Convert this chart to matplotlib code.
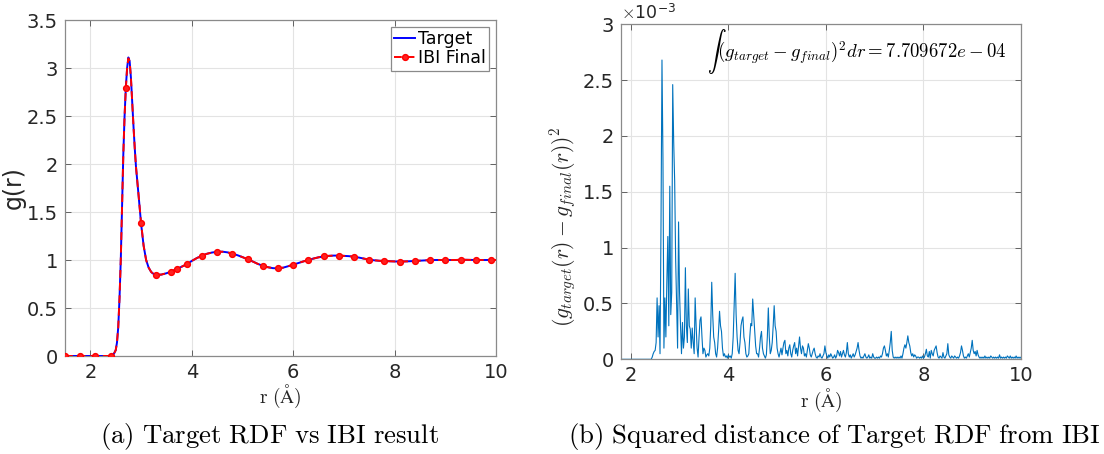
import numpy as np
import matplotlib
matplotlib.use("Agg")
import matplotlib.pyplot as plt

plt.rcParams['mathtext.fontset'] = 'cm'
plt.rcParams['font.family'] = ['DejaVu Sans']

# ---------------- data: left panel (RDF) ----------------
r_g = [1.5, 1.8, 2.1, 2.4, 2.45, 2.5, 2.525, 2.55, 2.575, 2.6, 2.625, 2.65, 2.675,
       2.7, 2.725, 2.75, 2.775, 2.8, 2.825, 2.85, 2.875, 2.9, 2.95, 3.0, 3.05,
       3.1, 3.15, 3.2, 3.25, 3.3, 3.4, 3.5, 3.6, 3.7, 3.8, 3.9, 4.0, 4.1, 4.2,
       4.3, 4.4, 4.5, 4.6, 4.7, 4.8, 4.9, 5.0, 5.1, 5.2, 5.3, 5.4, 5.5, 5.6,
       5.7, 5.8, 5.9, 6.0, 6.1, 6.2, 6.3, 6.4, 6.5, 6.6, 6.7, 6.8, 6.9, 7.0,
       7.1, 7.2, 7.3, 7.4, 7.5, 7.6, 7.7, 7.8, 7.9, 8.0, 8.1, 8.2, 8.3, 8.4,
       8.5, 8.6, 8.7, 8.8, 8.9, 9.0, 9.1, 9.2, 9.3, 9.4, 9.5, 9.6, 9.7, 9.8,
       9.9, 10.0]
g_target = [0, 0, 0, 0, 0.01, 0.06, 0.14, 0.3, 0.6, 1.0, 1.55, 2.1, 2.5,
            2.8, 3.0, 3.11, 3.07, 2.9, 2.65, 2.4, 2.17, 1.97, 1.68, 1.38, 1.15,
            1.0, 0.92, 0.875, 0.853, 0.845, 0.848, 0.862, 0.88, 0.905, 0.93, 0.955, 0.99, 1.02, 1.045,
            1.065, 1.078, 1.085, 1.087, 1.08, 1.067, 1.05, 1.03, 1.008, 0.985, 0.96, 0.94, 0.925, 0.915,
            0.913, 0.92, 0.935, 0.952, 0.968, 0.985, 1.0, 1.015, 1.028, 1.037, 1.043, 1.046, 1.046, 1.043,
            1.04, 1.034, 1.025, 1.014, 1.004, 0.997, 0.992, 0.99, 0.987, 0.985, 0.984, 0.985, 0.987, 0.99,
            0.993, 0.996, 0.999, 1.0, 1.0, 1.0, 1.0, 1.0, 1.002, 1.002, 1.001, 1.0, 1.0, 1.0,
            1.0, 1.0]
g_ibi = [0, 0, 0, 0, 0.01, 0.06, 0.14, 0.3, 0.6, 1.0, 1.55, 2.1, 2.5,
         2.79, 3.0, 3.1, 3.07, 2.9, 2.65, 2.4, 2.17, 1.97, 1.68, 1.39, 1.15,
         1.0, 0.92, 0.875, 0.853, 0.845, 0.848, 0.862, 0.88, 0.905, 0.93, 0.955, 0.99, 1.02, 1.045,
         1.065, 1.078, 1.084, 1.086, 1.08, 1.067, 1.05, 1.03, 1.008, 0.985, 0.96, 0.94, 0.925, 0.915,
         0.913, 0.92, 0.935, 0.952, 0.968, 0.985, 1.0, 1.015, 1.028, 1.037, 1.043, 1.046, 1.046, 1.043,
         1.04, 1.034, 1.025, 1.014, 1.004, 0.997, 0.992, 0.99, 0.987, 0.985, 0.984, 0.985, 0.987, 0.99,
         0.993, 0.996, 0.999, 1.0, 1.0, 1.0, 1.0, 1.0, 1.002, 1.002, 1.001, 1.0, 1.0, 1.0,
         1.0, 1.0]
marker_r = [1.5, 1.8, 2.1, 2.4, 2.7, 3.0, 3.3, 3.6, 3.7, 3.9, 4.2, 4.5, 4.8, 5.1,
            5.4, 5.7, 6.0, 6.3, 6.6, 6.9, 7.2, 7.5, 7.8, 8.1, 8.4, 8.7, 9.0,
            9.3, 9.6, 9.9]

# ---------------- data: right panel (squared distance, x1e-3) ----------------
r_sq_start = 2.40
r_sq_step = 0.02
sq_dist = [
    0, 0, 0.02, 0.05, 0.07, 0.08, 0.15, 0.55, 0.2, 0.48,
    0.05, 1.2, 2.68, 1.8, 0.1, 0.55, 0.2, 0.7, 1.1, 0.3,
    1.55, 0.4, 0.6, 2.46, 1.95, 1.6, 0.9, 0.5, 0.1, 1.23,
    0.6, 0.3, 0.05, 0.33, 0.1, 0.2, 0.82, 0.3, 0.15, 0.63,
    0.3, 0.27, 0.1, 0.28, 0.15, 0.05, 0.55, 0.3, 0.1, 0.02,
    0.2, 0.35, 0.38, 0.2, 0.05, 0.1, 0.08, 0.02, 0.04, 0.05,
    0.03, 0.1, 0.3, 0.69, 0.4, 0.2, 0.15, 0.05, 0.02, 0.1,
    0.25, 0.43, 0.3, 0.25, 0.1, 0.03, 0.05, 0.02, 0.03, 0.01,
    0.04, 0.02, 0.03, 0.01, 0.05, 0.2, 0.5, 0.77, 0.4, 0.2,
    0.08, 0.05, 0.15, 0.3, 0.35, 0.38, 0.2, 0.15, 0.05, 0.02,
    0.03, 0.05, 0.2, 0.32, 0.3, 0.54, 0.4, 0.25, 0.12, 0.05,
    0.05, 0.02, 0.1, 0.2, 0.25, 0.1, 0.05, 0.03, 0.01, 0.04,
    0.2, 0.46, 0.2, 0.05, 0.08, 0.15, 0.3, 0.48, 0.3, 0.25,
    0.1, 0.05, 0.02, 0.06, 0.1, 0.04, 0.1, 0.15, 0.17, 0.05,
    0.08, 0.03, 0.1, 0.13, 0.05, 0.02, 0.08, 0.12, 0.15, 0.05,
    0.1, 0.03, 0.12, 0.2, 0.1, 0.05, 0.12, 0.1, 0.03, 0.05,
    0.02, 0.08, 0.14, 0.1, 0.04, 0.02, 0.05, 0.08, 0.1, 0.05,
    0.02, 0.01, 0.03, 0.02, 0.05, 0.02, 0.01, 0.03, 0.05, 0.12,
    0.06, 0.03, 0.01, 0.04, 0.02, 0.05, 0.03, 0.01, 0.02, 0.04,
    0.01, 0.03, 0.08, 0.06, 0.03, 0.07, 0.02, 0.05, 0.08, 0.04,
    0.02, 0.06, 0.15, 0.05, 0.02, 0.04, 0.01, 0.03, 0.05, 0.02,
    0.04, 0.07, 0.1, 0.15, 0.08, 0.03, 0.01, 0.02, 0.01, 0.03,
    0.05, 0.02, 0.01, 0.02, 0.04, 0.01, 0.02, 0.01, 0.05, 0.02,
    0.01, 0.01, 0.02, 0.01, 0.02, 0.01, 0.03, 0.02, 0.05, 0.1,
    0.12, 0.08, 0.03, 0.05, 0.02, 0.08, 0.15, 0.25, 0.08, 0.02,
    0.01, 0.02, 0.01, 0.02, 0.01, 0.02, 0.01, 0.03, 0.01, 0.05,
    0.1, 0.13, 0.1, 0.15, 0.21, 0.15, 0.12, 0.06, 0.03, 0.05,
    0.02, 0.04, 0.03, 0.01, 0.02, 0.02, 0.01, 0.02, 0.01, 0.03,
    0.01, 0.02, 0.05, 0.09, 0.03, 0.02, 0.07, 0.01, 0.08, 0.05,
    0.03, 0.08, 0.1, 0.12, 0.06, 0.02, 0.01, 0.03, 0.02, 0.01,
    0.06, 0.02, 0.01, 0.03, 0.05, 0.14, 0.04, 0.02, 0.01, 0.03,
    0.02, 0.01, 0.03, 0.02, 0.01, 0.02, 0.01, 0.03, 0.06, 0.12,
    0.08, 0.03, 0.01, 0.02, 0.01, 0.03, 0.05, 0.02, 0.06, 0.1,
    0.17, 0.08, 0.05, 0.07, 0.03, 0.08, 0.04, 0.02, 0.01, 0.02,
    0.01, 0.02, 0.01, 0.03, 0.01, 0.02, 0.01, 0.02, 0.01, 0.03,
    0.02, 0.01, 0.02, 0.01, 0.02, 0.01, 0.02, 0.01, 0.04, 0.01,
    0.02, 0.01, 0.02, 0.01, 0.02, 0.01, 0.03, 0.02, 0.01, 0.03,
    0.01, 0.02, 0.01, 0.02, 0.01, 0.03, 0.01, 0.02, 0.01, 0.02,
    0.01]
integral_text = r'$\int(g_{target}-g_{final})^2dr=7.709672e-04$'

# ---------------- figure ----------------
fig = plt.figure(figsize=(11.04, 4.54), dpi=100)
ax1 = fig.add_axes([65/1104, 1-356/454, (496-65)/1104, (356-20)/454])
ax2 = fig.add_axes([621/1104, 1-359.3/454, (1021-621)/1104, (359.3-24.3)/454])

tick_col = '#262626'
for ax in (ax1, ax2):
    ax.grid(True, color='#e3e3e3', linewidth=0.8)
    ax.set_axisbelow(True)
    ax.tick_params(direction='in', top=True, right=True, length=4,
                   width=0.6, color='#4d4d4d', labelcolor=tick_col, labelsize=14, pad=5)
    for s in ax.spines.values():
        s.set_color('#8a8a8a')
        s.set_linewidth(0.9)

# left
rg = np.array(r_g)
mk_idx = [int(np.argmin(np.abs(rg - m))) for m in marker_r]
ax1.plot(r_g, g_target, color='#0000ff', lw=1.4, label='Target', zorder=3)
ax1.plot(r_g, g_ibi, color='#ff0000', lw=1.4, ls=(0, (4, 2.5)), marker='o', ms=4.2,
         markevery=mk_idx, mfc='#ff2020', mec='#ff0000', label='IBI Final', zorder=4)
ax1.set_xlim(1.5, 10)
ax1.set_ylim(0, 3.5)
ax1.set_xticks([2, 4, 6, 8, 10])
ax1.set_yticks([0, 0.5, 1, 1.5, 2, 2.5, 3, 3.5])
ax1.set_yticklabels(['0', '0.5', '1', '1.5', '2', '2.5', '3', '3.5'])
ax1.set_ylabel('g(r)', fontsize=17, color=tick_col, labelpad=1)
ax1.set_xlabel(r'$\mathrm{r\ (\AA)}$', fontsize=14, color=tick_col, labelpad=1)
leg = ax1.legend(loc='upper right', fontsize=12.5, handlelength=1.2, handletextpad=0.15,
                 borderpad=0.2, labelspacing=0.05, fancybox=False, framealpha=1,
                 borderaxespad=0.4)
leg.get_frame().set_edgecolor('#8a8a8a')
leg.get_frame().set_linewidth(0.9)

# right
r_sq = [1.8] + [r_sq_start + i * r_sq_step for i in range(len(sq_dist))]
d_sq = [0] + sq_dist
ax2.plot(r_sq, d_sq, color='#0072BD', lw=0.8)
ax2.set_xlim(1.8, 10)
ax2.set_ylim(0, 3)
ax2.set_xticks([2, 4, 6, 8, 10])
ax2.set_yticks([0, 0.5, 1, 1.5, 2, 2.5, 3])
ax2.set_yticklabels(['0', '0.5', '1', '1.5', '2', '2.5', '3'])
ax2.set_xlabel(r'$\mathrm{r\ (\AA)}$', fontsize=14, color=tick_col, labelpad=1)
ax2.set_ylabel(r'$(g_{target}(r)-g_{final}(r))^2$', fontsize=15.5, color=tick_col)
ax2.yaxis.set_label_coords(-0.105, 0.395)
ax2.text(0.965, 0.92, integral_text, transform=ax2.transAxes, ha='right', va='center',
         fontsize=13.5, color='black')
fig.text(621/1104, 1-13/454, r'$\times$10$^{\mathregular{-3}}$', fontsize=12.5, color=tick_col,
         ha='left', va='center')

# captions
fig.text(270/1104, 1-437/454, r'$\mathrm{(a)\ Target\ RDF\ vs\ IBI\ result}$', fontsize=19.3,
         ha='center', va='center')
fig.text(834/1104, 1-437/454, r'$\mathrm{(b)\ Squared\ distance\ of\ Target\ RDF\ from\ IBI}$',
         fontsize=19.3, ha='center', va='center')

fig.savefig('out.png', dpi=100)
